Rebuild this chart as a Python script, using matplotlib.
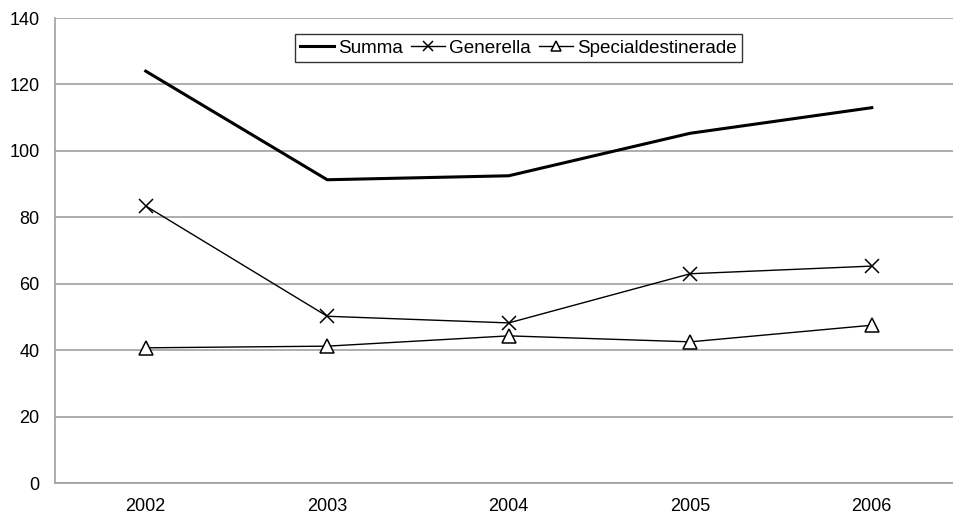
import numpy as np
import matplotlib
matplotlib.use("Agg")
import matplotlib.pyplot as plt

years = ["2002", "2003", "2004", "2005", "2006"]
summa = [124.0, 91.3, 92.5, 105.3, 113.0]
generella = [83.4, 50.2, 48.2, 63.0, 65.3]
special = [40.7, 41.2, 44.3, 42.5, 47.5]

plt.rcParams['font.family'] = ['Liberation Sans', 'DejaVu Sans']

fig = plt.figure(figsize=(9.54, 5.17), dpi=100)
# plot area runs past the right edge of the figure
ax = fig.add_axes([55 / 954, 34 / 517, 907.5 / 954, 465 / 517])
x = np.arange(len(years))

ax.plot(x, summa, color='black', lw=2.2, label='Summa')
ax.plot(x, generella, color='black', lw=1.0, marker='x', ms=10, mew=1.1,
        label='Generella')
ax.plot(x, special, color='black', lw=1.0, marker='^', ms=10, mew=1.1,
        mfc='white', label='Specialdestinerade')

ax.set_xlim(-0.5, 4.5)
ax.set_ylim(0, 140)
ax.set_yticks(np.arange(0, 141, 20))
ax.set_xticks(x)
ax.set_xticklabels(years)
ax.tick_params(length=0, labelsize=13)
ax.tick_params(axis='x', pad=11)
ax.tick_params(axis='y', pad=11)
ax.yaxis.grid(True, color='#a0a0a0', lw=1.2)
ax.set_axisbelow(True)
for s in ['top', 'right']:
    ax.spines[s].set_visible(False)
for s in ['left', 'bottom']:
    ax.spines[s].set_color('#a0a0a0')
    ax.spines[s].set_linewidth(1.2)

leg = ax.legend(loc='upper left', bbox_to_anchor=(240 / 907.5, 1 - 16 / 465),
                ncol=3, fontsize=13.6, frameon=True, fancybox=False,
                edgecolor='black', handlelength=1.8, handletextpad=0.2,
                columnspacing=0.45, borderpad=0.28, borderaxespad=0,
                markerscale=0.75)
leg.get_frame().set_linewidth(1.0)

fig.savefig('out.png', dpi=100)
